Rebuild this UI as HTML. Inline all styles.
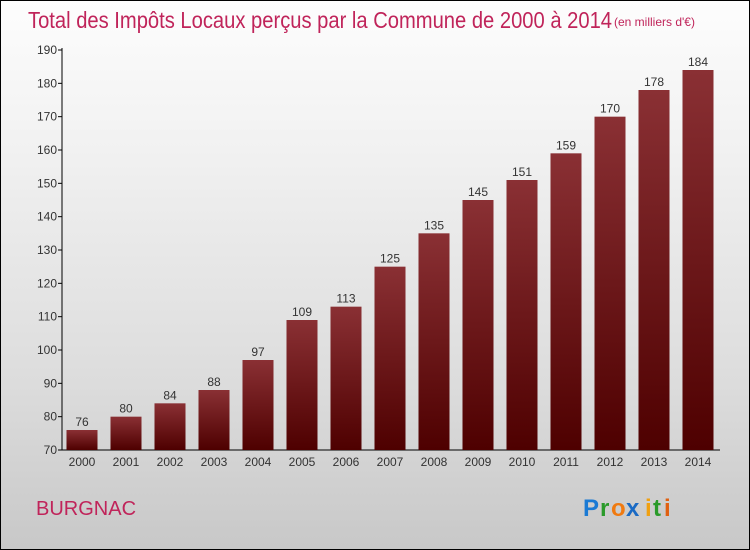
<!DOCTYPE html>
<html><head><meta charset="utf-8"><style>
body{margin:0}
#c{width:750px;height:550px;position:relative;box-sizing:border-box;border:1px solid #000;background:linear-gradient(#fdfdfd,#f2f2f2 25%,#dcdcdc 70%,#c8c8c8);font-family:"Liberation Sans",sans-serif;overflow:hidden}
</style></head><body>
<div id="c">
<svg id="s" width="750" height="550" style="position:absolute;left:-1px;top:-1px">
<defs><linearGradient id="g" x1="0" y1="0" x2="0" y2="1"><stop offset="0" stop-color="#8a3034"/><stop offset="1" stop-color="#4e0000"/></linearGradient></defs>
<text x="28" y="28" font-size="23" fill="#c0245a" font-weight="300" textLength="584" lengthAdjust="spacingAndGlyphs">Total des Impôts Locaux perçus par la Commune de 2000 à 2014</text>
<text x="614" y="26" font-size="12" fill="#c0245a">(en milliers d'€)</text>
<text x="36" y="515" font-size="20" fill="#c0245a">BURGNAC</text>
<g font-size="24" font-weight="bold"><text x="583" y="516" fill="#1a7ad4">P</text><text x="600" y="516" fill="#2a9a2a">r</text><text x="611" y="516" fill="#f07a10">o</text><text x="626" y="516" fill="#1a6ac4">x</text><text x="645" y="516" fill="#f0a010">i</text><text x="653" y="516" fill="#2a9a2a">t</text><text x="664" y="516" fill="#e06010">i</text></g>
</svg>
</div>
<script>
const years=["2000","2001","2002","2003","2004","2005","2006","2007","2008","2009","2010","2011","2012","2013","2014"];
const values=[76,80,84,88,97,109,113,125,135,145,151,159,170,178,184];
const ticks=[70,80,90,100,110,120,130,140,150,160,170,180,190];
const s=document.getElementById('s'),NS="http://www.w3.org/2000/svg";
const y=v=>450-(v-70)*400/120, x=i=>82+i*44;
function mk(t,a,p){const e=document.createElementNS(NS,t);for(const k in a)e.setAttribute(k,a[k]);(p||s).appendChild(e);return e;}
const ax=mk('line',{x1:62,y1:48,x2:62,y2:450,stroke:'#000'});


const bx=mk('line',{x1:62,y1:450,x2:720,y2:450,stroke:'#000'});


ticks.forEach(v=>{
 const l=mk('line',{x1:58,y1:y(v),x2:62,y2:y(v),stroke:'#000'});
 
 
 const t=mk('text',{x:57,y:y(v)+4,'font-size':12,fill:'#333','text-anchor':'end'});t.textContent=v;
 
 
});
values.forEach((v,i)=>{
 const r=mk('rect',{x:x(i)-15.5,y:y(v),width:31,height:450-y(v),fill:'url(#g)'});
 
 
 const t=mk('text',{x:x(i),y:y(v)-4,'font-size':12,fill:'#333','text-anchor':'middle'});t.textContent=v;
 
 
 const xl=mk('text',{x:x(i),y:466,'font-size':12,fill:'#333','text-anchor':'middle'});xl.textContent=years[i];
 
 
});
</script>
</body></html>
